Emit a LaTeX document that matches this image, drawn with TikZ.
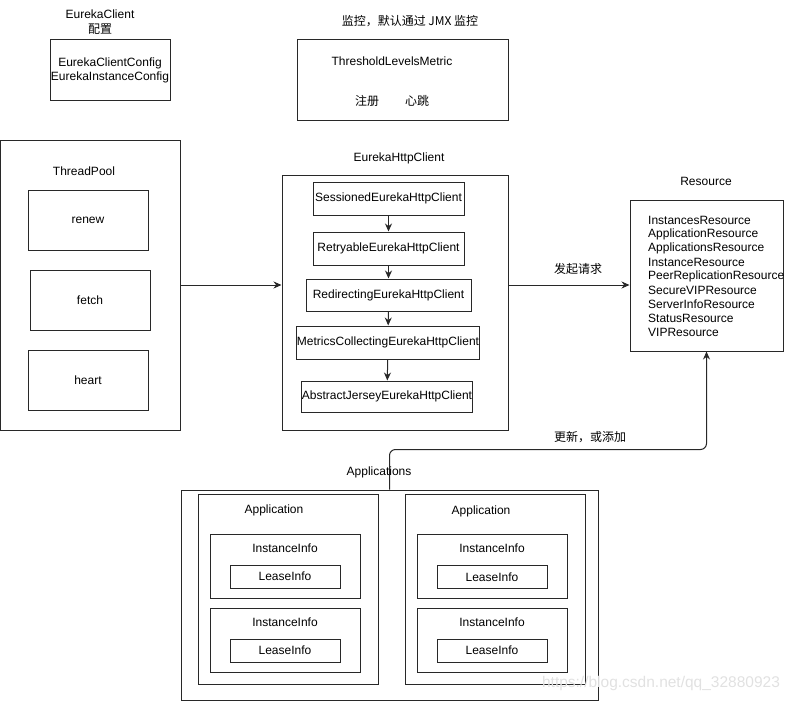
\documentclass[tikz,border=0pt]{standalone}
\usepackage{fontspec}
\setmainfont{Liberation Sans}
\newfontfamily\cjk{Noto Sans CJK SC}
\usetikzlibrary{arrows.meta}
\definecolor{B1}{RGB}{40,40,40}
\definecolor{W1}{RGB}{225,225,225}
\tikzset{
  txt/.style={font=\fontsize{12}{14}\selectfont, inner sep=0pt},
  box/.style={draw=B1, line width=1pt, inner sep=0pt, font=\fontsize{12}{14}\selectfont,
              minimum width=#1},
  arr/.style={draw=B1, line width=1pt, -{Stealth[length=8pt,width=7pt]}},
}

\begin{document}
\begin{tikzpicture}[x=1pt, y=-1pt]
      \useasboundingbox (0,0) rectangle (792,701);
      % config
      \node[txt] (cfgt) at (100,14) {EurekaClient};
      \node[txt] (cfgc) at (100,29) {\cjk 配置};
      \node[box=120, minimum height=60, align=center] (cfg) at (110,70) {EurekaClientConfig\\EurekaInstanceConfig};
      % metric
      \node[txt] (mont) at (410,21) {\cjk 监控，默认通过 JMX 监控};
      \node[box=211, minimum height=80] (metric) at (402.5,80) {};
      \node[txt] (thr) at (392,61) {ThresholdLevelsMetric};
      \node[txt] (reg) at (367,101) {\cjk 注册};
      \node[txt] (hb) at (417,101) {\cjk 心跳};
      % thread pool
      \node[box=180, minimum height=290] (pool) at (90.5,285) {};
      \node[txt] (poolt) at (84,171) {ThreadPool};
      \node[box=120, minimum height=60] (renew) at (88,220) {renew};
      \node[box=120, minimum height=60] (fetch) at (90,300) {fetch};
      \node[box=120, minimum height=60] (heart) at (88,380) {heart};
      % http client
      \node[txt] (httpt) at (399,158) {EurekaHttpClient};
      \node[box=226, minimum height=255] (http) at (395,302.5) {};
      \node[box=151, minimum height=33] (sess) at (388.5,198.5) {SessionedEurekaHttpClient};
      \node[box=151, minimum height=33] (retry) at (388.5,248.5) {RetryableEurekaHttpClient};
      \node[box=165, minimum height=32] (redir) at (388.5,295) {RedirectingEurekaHttpClient};
      \node[box=176, minimum height=33] (mtr) at (388,342.5) {MetricsCollectingEurekaHttpClient};
      \node[box=170, minimum height=31] (jer) at (387,396.5) {AbstractJerseyEurekaHttpClient};
      \draw[arr] (sess) -- (retry);
      \draw[arr] (retry) -- (redir);
      \draw[arr] (redir) -- (mtr);
      \draw[arr] (mtr) -- (jer);
      % resource
      \node[txt] (rest) at (706,181) {Resource};
      \node[box=153, minimum height=151] (res) at (706.5,275.5) {};
      \foreach \r [count=\i] in {InstancesResource, ApplicationResource, ApplicationsResource,
          InstanceResource, PeerReplicationResource, SecureVIPResource, ServerInfoResource,
          StatusResource, VIPResource}
        \node[txt, anchor=west] (r\i) at (648,206+14*\i) {\r};
      \draw[arr] (pool.east) -- (pool.east -| http.west);
      \draw[arr] (pool.east -| http.east) -- (pool.east -| res.west);
      \node[txt] (req) at (578,269) {\cjk 发起请求};
      % applications
      \node[txt] (appst) at (379,472) {Applications};
      \node[box=417, minimum height=210] (apps) at (389.5,595) {};
      \node[box=180, minimum height=190] (appL) at (288,589) {};
      \node[box=180, minimum height=190] (appR) at (495,589) {};
      \node[txt] (appLt) at (274,510) {Application};
      \node[txt] (appRt) at (481,511) {Application};
      \node[box=150, minimum height=64] (infoL1) at (285,566) {};
      \node[box=150, minimum height=64] (infoL2) at (285,640) {};
      \node[box=150, minimum height=64] (infoR1) at (492,566) {};
      \node[box=150, minimum height=64] (infoR2) at (492,640) {};
      \node[txt] (iL1) at (285,548) {InstanceInfo};
      \node[txt] (iL2) at (285,622) {InstanceInfo};
      \node[txt] (iR1) at (492,548) {InstanceInfo};
      \node[txt] (iR2) at (492,622) {InstanceInfo};
      \node[box=110, minimum height=23] (leaseL1) at (285,576.5) {LeaseInfo};
      \node[box=110, minimum height=23] (leaseL2) at (285,650.5) {LeaseInfo};
      \node[box=110, minimum height=23] (leaseR1) at (492,577) {LeaseInfo};
      \node[box=110, minimum height=23] (leaseR2) at (492,650.5) {LeaseInfo};
      \draw[arr, rounded corners=6pt] (apps.north) -- ++(0,-40) -| (res.south);
      \node[txt] (upd) at (590,437) {\cjk 更新，或添加};
      \node[txt, font=\fontsize{15.5}{16}\selectfont, text=W1] (wm) at (661,683) {https://blog.csdn.net/qq\_32880923};
    \end{tikzpicture}
\end{document}
